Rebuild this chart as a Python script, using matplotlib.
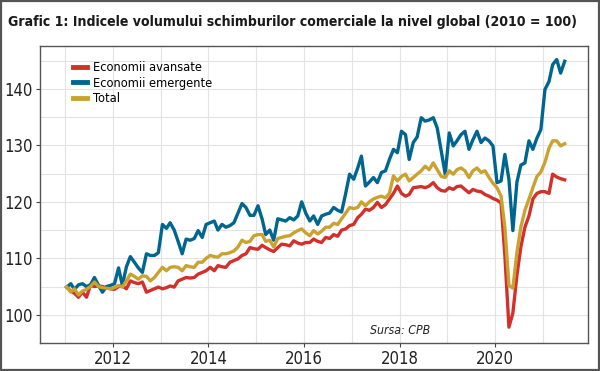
import matplotlib
matplotlib.use('Agg')
import matplotlib.pyplot as plt
import matplotlib.dates as mdates
import numpy as np
import pandas as pd

# monthly index values, Jan 2011 - Jun 2021 (2010 = 100)
dates = pd.date_range('2011-01-01', periods=126, freq='MS') + pd.Timedelta(days=14)

avansate = [
    104.9, 104.2, 103.8, 103.1, 104.0, 103.1, 105.2, 105.0, 105.1, 105.0, 104.8, 104.6,
    104.5, 105.0, 105.1, 104.6, 106.0, 105.7, 105.5, 105.8, 104.0, 104.3, 104.6, 104.9,
    104.6, 104.8, 105.1, 104.9, 106.0, 106.3, 106.6, 106.5, 106.6, 107.2, 107.5, 107.8,
    108.4, 107.8, 108.7, 108.5, 108.4, 109.3, 109.6, 109.9, 110.5, 110.8, 111.9, 111.7,
    111.6, 112.3, 111.9, 111.5, 111.2, 111.9, 112.5, 112.4, 112.2, 113.1, 112.7, 112.5,
    112.8, 112.8, 113.4, 113.0, 112.8, 113.7, 113.5, 114.2, 113.9, 115.0, 115.2, 115.8,
    116.0, 117.2, 117.8, 118.7, 118.5, 119.0, 119.9, 119.0, 119.5, 120.5, 121.5, 122.8,
    121.5, 121.0, 121.3, 122.5, 122.6, 122.7, 122.5, 122.8, 123.4, 122.5, 122.0, 121.9,
    122.5, 122.2, 122.7, 122.8, 122.2, 121.6, 122.2, 121.9, 121.8, 121.3, 121.0, 120.6,
    120.3, 119.8, 110.5, 97.8, 100.3, 107.0, 112.0, 115.5, 117.5, 120.5, 121.5, 121.8,
    121.8, 121.5, 124.9, 124.4, 124.1, 123.9,
]

emergente = [
    104.9, 105.5, 104.5, 105.3, 105.5, 105.0, 105.3, 106.6, 105.2, 104.0, 105.0, 105.2,
    105.5, 108.3, 105.2, 108.5, 110.3, 109.3, 108.3, 107.5, 110.8, 110.5, 110.5, 111.0,
    116.0, 115.3, 116.3, 115.0, 113.0, 110.8, 113.4, 113.2, 113.5, 114.9, 113.7, 116.0,
    116.3, 116.6, 115.0, 116.0, 115.5, 115.8, 116.3, 118.0, 119.7, 119.0, 117.6, 117.6,
    119.3, 117.0, 114.2, 115.0, 113.2, 117.0, 116.8, 116.6, 117.2, 116.8, 117.5, 120.0,
    118.0, 116.6, 117.5, 116.0, 117.5, 117.8, 118.0, 119.0, 118.5, 118.2, 121.5, 124.9,
    124.0, 126.0, 128.1, 122.8, 123.5, 124.3, 123.4, 125.2, 125.5, 127.5, 129.3, 128.7,
    132.5, 131.9, 127.5, 130.5, 131.5, 134.9, 134.3, 134.5, 134.9, 133.1, 129.0, 124.9,
    132.2, 129.9, 130.8, 131.9, 132.5, 129.3, 131.0, 132.5, 130.5, 131.3, 130.8, 129.9,
    123.4, 123.7, 128.4, 124.0, 114.9, 123.5, 126.5, 126.9, 130.8, 129.3, 131.3, 132.8,
    139.9, 141.3, 144.3, 145.2, 142.8, 144.9,
]

total = [
    104.9, 104.0, 104.6, 103.5, 104.2, 104.5, 105.0, 105.8, 105.0, 104.8, 104.7, 104.6,
    104.8, 105.2, 104.9, 106.0, 107.2, 106.8, 106.3, 106.9, 106.8, 106.0, 106.6, 107.5,
    108.4, 107.8, 108.4, 108.5, 108.4, 107.8, 108.7, 108.5, 108.4, 109.3, 109.3, 110.0,
    110.5, 110.3, 110.2, 110.8, 110.8, 111.0, 111.3, 112.0, 113.2, 112.8, 113.0, 114.0,
    114.2, 114.2, 113.0, 113.2, 112.0, 113.5, 113.7, 113.9, 114.0, 114.5, 114.9, 115.2,
    114.5, 114.0, 114.9, 114.3, 114.8, 115.5, 115.5, 116.2, 116.0, 117.0, 118.0, 119.0,
    118.8, 119.0, 120.0, 119.3, 120.0, 120.5, 120.8, 121.0, 120.7, 121.5, 124.6, 123.7,
    124.5, 124.9, 123.7, 124.3, 124.9, 125.5, 126.3, 125.7, 126.9, 125.7, 124.5, 124.3,
    125.5, 124.9, 125.7, 126.0, 125.5, 124.3, 125.5, 126.0, 125.2, 125.5, 124.3, 123.3,
    122.5, 121.0, 115.5, 105.2, 104.7, 111.0, 115.5, 118.5, 120.5, 122.5, 124.5, 125.3,
    127.0, 129.5, 130.8, 130.8, 129.9, 130.3,
]

labels = ['Economii avansate', 'Economii emergente', 'Total']
colors = ['#d3302c', '#00668f', '#c9a230']

plt.rcParams['font.family'] = ['DejaVu Sans']
plt.rcParams['font.stretch'] = 'condensed'

fig = plt.figure(figsize=(6, 3.71), dpi=100)
fig.patch.set_facecolor('white')
# outer frame
fig.patches.append(plt.Rectangle((0.002, 0.003), 0.996, 0.994, transform=fig.transFigure,
                                 fill=False, edgecolor='#555555', linewidth=1.6))

fig.text(0.013, 0.94, 'Grafic 1: Indicele volumului schimburilor comerciale la nivel global (2010 = 100)',
         fontsize=10.1, fontweight='bold', color='#1a1a1a', va='center', ha='left')

ax = fig.add_axes([0.0667, 0.0755, 0.9133, 0.8005])
for vals, lab, col in zip([avansate, emergente, total], labels, colors):
    ax.plot(dates, vals, color=col, linewidth=2.4, label=lab, solid_joinstyle='round')

ax.set_ylim(95.2, 147.6)
ax.set_xlim(pd.Timestamp('2010-06-25'), pd.Timestamp('2021-12-10'))
ax.set_yticks([100, 110, 120, 130, 140])
ax.set_yticks([95, 105, 115, 125, 135, 145], minor=True)
ax.xaxis.set_major_locator(mdates.YearLocator(2))
ax.xaxis.set_minor_locator(mdates.YearLocator(1))
ax.xaxis.set_major_formatter(mdates.DateFormatter('%Y'))
ax.grid(True, which='both', color='#e3e3e3', linewidth=0.8)
ax.set_axisbelow(True)
ax.tick_params(which='major', length=3, width=0.8, color='#444444', labelsize=12,
               labelcolor='#222222', pad=2)
ax.tick_params(which='minor', length=0)
for s in ax.spines.values():
    s.set_color('#555555')
    s.set_linewidth(1.0)

leg = ax.legend(loc='upper left', bbox_to_anchor=(0.047, 0.975), frameon=False, fontsize=9.2,
                handlelength=1.1, handletextpad=0.4, labelspacing=0.2, borderaxespad=0.2)
for h in leg.get_lines():
    h.set_linewidth(3.5)

ax.text(0.657, 0.041, 'Sursa: CPB', transform=ax.transAxes, fontsize=8.8, style='italic',
        ha='center', va='center', color='#222222')

fig.savefig('out.png', dpi=100)
